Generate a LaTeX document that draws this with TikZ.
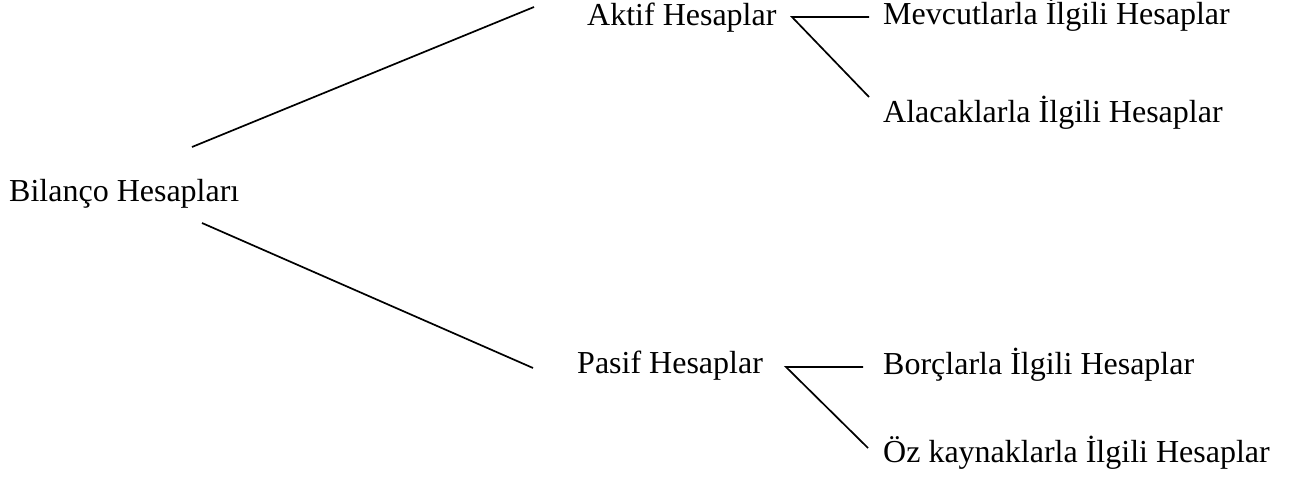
\documentclass[tikz,border=0pt]{standalone}
\usepackage{fontspec}
\setmainfont{Liberation Serif}
\begin{document}
\begin{tikzpicture}[x=1pt,y=-1pt,
  lbl/.style={anchor=base west,inner sep=0pt,font=\fontsize{32}{38}\selectfont},
  conn/.style={draw=black,line width=1.7pt}]
\useasboundingbox (0,0) rectangle (1295,478);
\node[lbl] (bil) at (9,202) {Bilanço Hesapları};
\node[lbl] (akt) at (587,26) {Aktif Hesaplar};
\node[lbl] (pas) at (577,373) {Pasif Hesaplar};
\node[lbl] (mev) at (883,25) {Mevcutlarla İlgili Hesaplar};
\node[lbl] (ala) at (883,123) {Alacaklarla İlgili Hesaplar};
\node[lbl] (bor) at (883,374) {Borçlarla İlgili Hesaplar};
\node[lbl] (oz) at (883,462) {Öz kaynaklarla İlgili Hesaplar};
% connector end points
\coordinate (bilU) at (192,147);
\coordinate (aktL) at (534,7);
\coordinate (bilD) at (202,223);
\coordinate (pasL) at (533,368);
\coordinate (aktR) at (792,17);
\coordinate (mevL) at (869,17);
\coordinate (alaL) at (869,97);
\coordinate (pasR) at (786,367);
\coordinate (borL) at (863,367);
\coordinate (ozL) at (868,448);
\draw[conn] (bilU) -- (aktL);
\draw[conn] (bilD) -- (pasL);
\draw[conn] (mevL) -- (aktR) -- (alaL);
\draw[conn] (borL) -- (pasR) -- (ozL);
\end{tikzpicture}
\end{document}
